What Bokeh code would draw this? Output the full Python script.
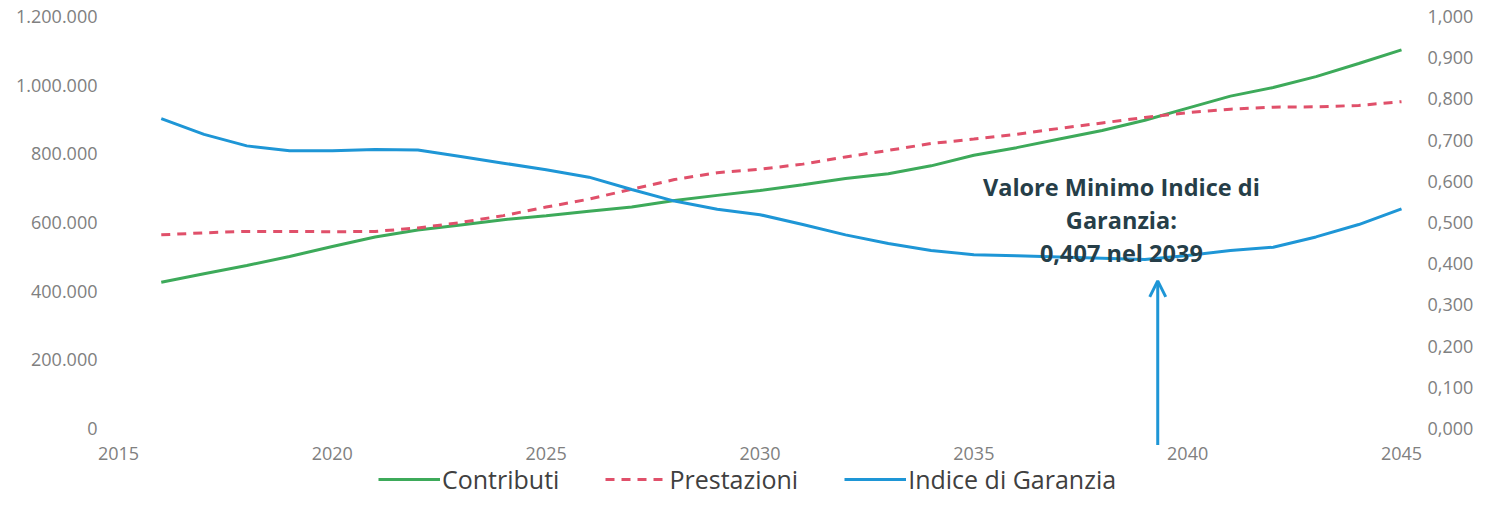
from bokeh.plotting import figure
from bokeh.models import (Range1d, LinearAxis, FixedTicker, CustomJSTickFormatter, Legend,
                          LegendItem, Label, Arrow, OpenHead, ColumnDataSource)
from bokeh.embed import file_html
from bokeh.resources import INLINE

# ---------------- data ----------------
years = list(range(2016, 2046))
contributi = [426000, 451000, 475000, 501000, 530000, 558000, 578000, 593000, 608000, 620000,
              633000, 645000, 664000, 679000, 693000, 710000, 728000, 742000, 765000, 796000,
              818000, 843000, 868000, 898000, 933000, 968000, 993000, 1025000, 1063000, 1103000]
prestazioni = [564000, 570000, 574000, 574000, 573000, 574000, 584000, 600000, 620000, 645000,
               668000, 697000, 725000, 745000, 755000, 770000, 791000, 810000, 830000, 843000,
               857000, 874000, 890000, 906000, 920000, 930000, 936000, 937000, 941000, 952000]
indice = [0.752, 0.714, 0.686, 0.674, 0.674, 0.677, 0.676, 0.660, 0.644, 0.628,
          0.610, 0.580, 0.552, 0.532, 0.519, 0.495, 0.470, 0.449, 0.432, 0.422,
          0.419, 0.416, 0.413, 0.410, 0.420, 0.432, 0.440, 0.465, 0.495, 0.533]

x_ticks = [2015, 2020, 2025, 2030, 2035, 2040, 2045]
left_ticks = [0, 200000, 400000, 600000, 800000, 1000000, 1200000]
right_ticks = [0.0, 0.1, 0.2, 0.3, 0.4, 0.5, 0.6, 0.7, 0.8, 0.9, 1.0]

series_names = ["Contributi", "Prestazioni", "Indice di Garanzia"]
annotation_lines = ["Valore Minimo Indice di", "Garanzia:", "0,407 nel 2039"]
min_year = 2039.3

GREEN = "#3DAA5A"
RED = "#E0506A"
BLUE = "#1E96D6"
TICK_COLOR = "#808080"
FONT = "Open Sans"

src = ColumnDataSource(dict(year=years, contributi=contributi,
                            prestazioni=prestazioni, indice=indice))

p = figure(width=1483, height=515,
           x_range=Range1d(2014.509, 2045.561),
           y_range=Range1d(-238835, 1217476),
           x_axis_location=None,
           output_backend="svg", toolbar_location=None,
           min_border_left=97, min_border_right=58,
           min_border_top=10, min_border_bottom=5)
p.extra_y_ranges = {"idx": Range1d(-0.19903, 1.01456)}
p.outline_line_color = None
p.grid.visible = False
p.background_fill_color = "white"
p.border_fill_color = "white"


def style_axis(ax, standoff):
    ax.axis_line_color = None
    ax.major_tick_line_color = None
    ax.minor_tick_line_color = None
    ax.major_tick_out = 0
    ax.major_tick_in = 0
    ax.minor_tick_out = 0
    ax.minor_tick_in = 0
    ax.major_label_text_font = FONT
    ax.major_label_text_font_size = "18px"
    ax.major_label_text_color = TICK_COLOR
    ax.major_label_standoff = standoff


x_axis = LinearAxis(fixed_location=-49515)
style_axis(x_axis, 1)
x_axis.ticker = FixedTicker(ticks=x_ticks)
p.add_layout(x_axis, "below")

style_axis(p.yaxis[0], 0)
p.yaxis[0].ticker = FixedTicker(ticks=left_ticks)
p.yaxis[0].formatter = CustomJSTickFormatter(
    code=r"return tick < 0 ? '' : Math.round(tick).toString().replace(/\B(?=(\d{3})+(?!\d))/g, '.');")

right_axis = LinearAxis(y_range_name="idx")
style_axis(right_axis, 2)
right_axis.ticker = FixedTicker(ticks=right_ticks)
right_axis.formatter = CustomJSTickFormatter(code="return tick.toFixed(3).replace('.', ',');")
p.add_layout(right_axis, "right")

r_c = p.line("year", "contributi", source=src, line_color=GREEN, line_width=3)
r_p = p.line("year", "prestazioni", source=src, line_color=RED, line_width=3, line_dash="9 7")
r_i = p.line("year", "indice", source=src, line_color=BLUE, line_width=3, y_range_name="idx")

# annotation (arrow + text)
arrow = Arrow(end=OpenHead(size=16, line_color=BLUE, line_width=3),
              x_start=min_year, y_start=-48000, x_end=min_year, y_end=430000,
              line_color=BLUE, line_width=3)
p.add_layout(arrow)

for txt, yv in zip(annotation_lines, [702000, 606000, 510000]):
    p.add_layout(Label(x=2038.45, y=yv, text=txt, text_align="center", text_baseline="middle",
                       text_font=FONT, text_font_style="bold", text_font_size="23.5px",
                       text_color="#263E48"))

legend = Legend(items=[LegendItem(label=series_names[0], renderers=[r_c]),
                       LegendItem(label=series_names[1], renderers=[r_p]),
                       LegendItem(label=series_names[2], renderers=[r_i])],
                location=(281, 14), orientation="horizontal",
                label_text_font=FONT, label_text_font_size="25px", label_text_color="#404040",
                glyph_width=62, glyph_height=20, label_standoff=2, spacing=46,
                padding=0, margin=0, border_line_color=None, background_fill_alpha=0)
p.add_layout(legend, "center")

open("out.html", "w").write(file_html(p, INLINE))
